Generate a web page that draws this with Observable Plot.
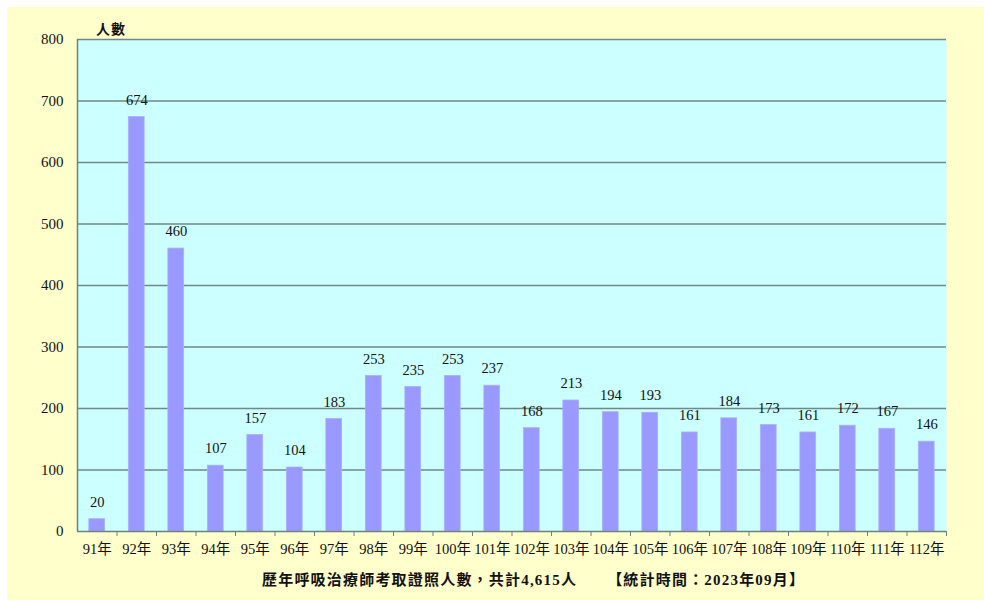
<!DOCTYPE html>
<html>
<head>
<meta charset="utf-8">
<script src="https://cdn.jsdelivr.net/npm/d3@7"></script>
<script src="https://cdn.jsdelivr.net/npm/@observablehq/plot@0.6"></script>
<style>
  html, body { margin: 0; padding: 0; background: #ffffff; }
  body { width: 984px; height: 602px; position: relative; overflow: hidden; }
  #bg { position: absolute; left: 7px; top: 7px; width: 977px; height: 593px; background: #FFFFCC; }
  #chart { position: absolute; left: 0; top: 0; }
  #ylabel { position: absolute; left: 96px; top: 18px; font: bold 14px "Liberation Serif", "Noto Sans CJK TC", serif; color: #111; letter-spacing: 1px; }
  #caption { position: absolute; left: 262px; top: 568px; font: bold 15px "Liberation Serif", "Noto Sans CJK TC", serif; color: #111; letter-spacing: 1.2px; white-space: nowrap; }
  #caption span.b { margin-left: 30px; }
</style>
</head>
<body>
<div id="bg"></div>
<div id="chart"></div>
<div id="ylabel">人數</div>
<div id="caption"><span>歷年呼吸治療師考取證照人數，共計4,615人</span><span class="b">【統計時間：2023年09月】</span></div>
<script>
const categories = ["91年","92年","93年","94年","95年","96年","97年","98年","99年","100年","101年","102年","103年","104年","105年","106年","107年","108年","109年","110年","111年","112年"];
const values = [20,674,460,107,157,104,183,253,235,253,237,168,213,194,193,161,184,173,161,172,167,146];
const yTicks = [0,100,200,300,400,500,600,700,800];

const data = categories.map((c, i) => ({i, c, v: values[i]}));
const font = '"Liberation Serif", "Noto Sans CJK TC", serif';

const chart = Plot.plot({
  width: 984,
  height: 560,
  marginLeft: 77,
  marginRight: 38,
  marginTop: 39,
  marginBottom: 29,
  style: {background: "transparent", fontFamily: font, fontSize: "14px", color: "#111"},
  x: {type: "linear", domain: [0, categories.length]},
  y: {domain: [0, 800]},
  marks: [
    Plot.frame({fill: "#CCFFFF", stroke: null}),
    Plot.ruleY(yTicks.filter(t => t > 0), {stroke: "#6f8888", strokeWidth: 1.5}),
    Plot.rect(data, {x1: d => d.i + 0.3, x2: d => d.i + 0.7, y1: 0, y2: "v", fill: "#9999FF", stroke: "#aab0ff", strokeWidth: 0.8}),
    Plot.text(data, {x: d => d.i + 0.5, y: "v", text: d => String(d.v), dy: -17, fontSize: 14.5, fill: "#111"}),
    Plot.ruleX([0], {stroke: "#6f8080", strokeWidth: 1.5}),
    Plot.ruleY([0], {stroke: "#6f8080", strokeWidth: 1.5}),
    Plot.axisY({ticks: yTicks, tickSize: 0, tickPadding: 14, label: null, fontSize: 15}),
    Plot.axisX({ticks: d3.range(1, categories.length + 1), tickSize: 5, tickFormat: () => "", label: null, stroke: "#6f8080"}),
    Plot.axisX({ticks: categories.map((c, i) => i + 0.5), tickFormat: d => categories[Math.floor(d)], tickSize: 0, tickPadding: 12, label: null, fontSize: 14.5})
  ]
});
document.getElementById("chart").appendChild(chart);
</script>
</body>
</html>
